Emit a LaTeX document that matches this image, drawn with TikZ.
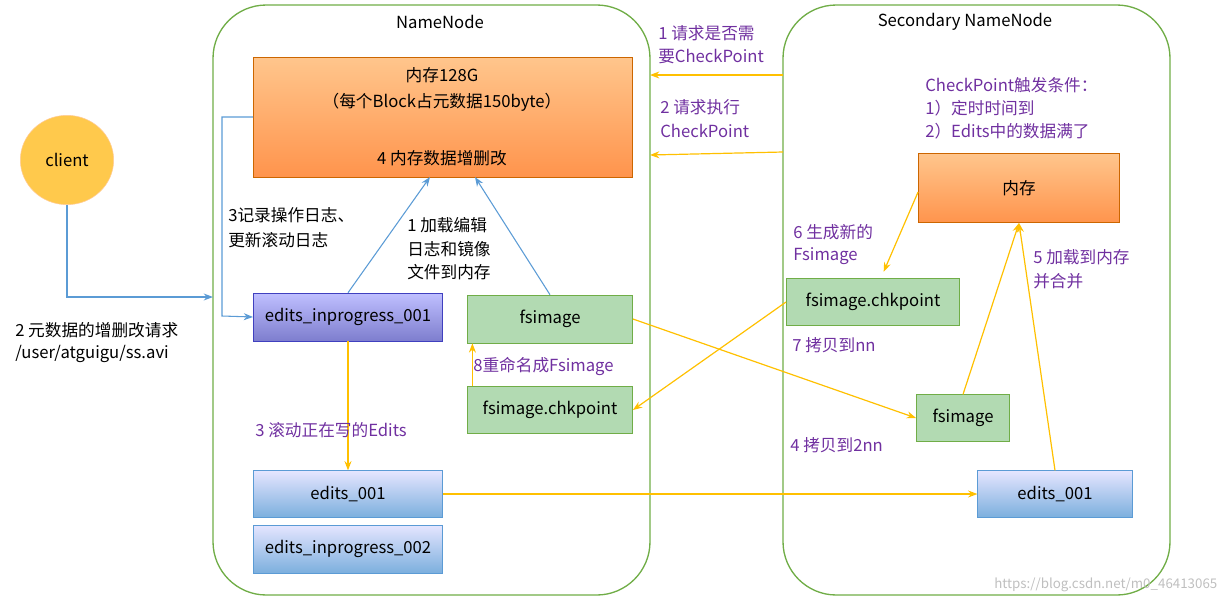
\documentclass[tikz,border=0pt]{standalone}
\usepackage{fontspec}
\setmainfont{Noto Sans CJK SC}
\usetikzlibrary{arrows.meta,shapes.geometric}
\definecolor{pur}{HTML}{7030A0}
\definecolor{org}{HTML}{FFC000}
\definecolor{bl}{HTML}{5B9BD5}
\definecolor{grn}{HTML}{70AD47}
\begin{document}
\begin{tikzpicture}[x=0.75pt,y=-0.75pt,font=\fontsize{12.5}{14}\selectfont,
 frame/.style={draw=grn,line width=1pt,rounded corners=40pt},
 ob/.style={top color=orange!45!white,bottom color=orange!80!red!70!white,draw=orange!80!black},
 gb/.style={fill=green!35!gray!45!white,draw=grn},
 bb/.style={top color=blue!10!white,bottom color=bl!80!white,draw=bl},
 pb/.style={top color=blue!25!white,bottom color=blue!45!gray!70!white,draw=blue!50!gray},
 oa/.style={draw=org,line width=0.9pt,-{Stealth[length=7pt]}},
 ba/.style={draw=bl,line width=0.8pt,-{Stealth[length=7pt]}},
 pl/.style={text=pur,anchor=west,align=left,inner sep=0},
 kl/.style={anchor=west,align=left,inner sep=0}]
\useasboundingbox (0,0) rectangle (1228,604);
\draw[frame] (213,5) rectangle (650,595);
\draw[frame] (783,5) rectangle (1170,595);
\node (nnt) at (440,22) {NameNode};
\node (snt) at (965,22) {Secondary NameNode};
\node[ellipse,minimum width=70pt,minimum height=67pt,fill=orange!60!yellow!70!white,draw=orange!40!white] (client) at (67,160) {client};
\path[ob] (253,57) rectangle (632,177);
\node at (442,75) {内存128G};
\node at (442,102) {（每个Block占元数据150byte）};
\node at (442,158) {4 内存数据增删改};
\node[pb,minimum width=142pt,minimum height=36pt] (eip1) at (348,317) {edits\_inprogress\_001};
\node[gb,minimum width=124pt,minimum height=36pt] (fsi) at (550,319) {fsimage};
\node[gb,minimum width=124pt,minimum height=35pt] (chk) at (550,410) {fsimage.chkpoint};
\node[bb,minimum width=142pt,minimum height=35pt] (e1) at (348,494) {edits\_001};
\node[bb,minimum width=142pt,minimum height=36pt] (eip2) at (348,549) {edits\_inprogress\_002};
\node[ob,minimum width=151pt,minimum height=52pt] (smem) at (1019,188) {内存};
\node[gb,minimum width=130pt,minimum height=35pt] (schk) at (873,302) {fsimage.chkpoint};
\node[gb,minimum width=70pt,minimum height=35pt] (sfs) at (963,418) {fsimage};
\node[bb,minimum width=116pt,minimum height=35pt] (se1) at (1055,494) {edits\_001};
\coordinate (c1) at (67,297);
\coordinate (nnl) at (213,297);
\draw[ba] (client.south) -- (c1) -- (nnl);
\node[kl] (l2) at (15,330) {2 元数据的增删改请求};
\node[kl] (l2b) at (15,354) {/user/atguigu/ss.avi};
\coordinate (m1) at (253,117);\coordinate (m2) at (222,117);\coordinate (m3) at (222,316);
\draw[ba] (m1) -- (m2) -- (m3) -- (eip1.west);
\node[kl] at (228,215) {3记录操作日志、};
\node[kl] at (228,240) {更新滚动日志};
\coordinate (mb1) at (430,177);\coordinate (mb2) at (475,177);
\draw[ba] (eip1.north) -- (mb1);
\draw[ba] (fsi.north) -- (mb2);
\node[kl] at (407,225) {1 加载编辑};
\node[kl] at (407,249) {日志和镜像};
\node[kl] at (407,272) {文件到内存};
\draw[oa] (eip1.south) -- (e1.north);
\node[pl] at (255,430) {3 滚动正在写的Edits};
\draw[oa] ([xshift=4pt]chk.north west) -- ([xshift=4pt]fsi.south west);
\node[pl] at (473,366) {8重命名成Fsimage};
\draw[oa] (e1.east) -- (se1.west);
\draw[oa] (fsi.east) -- (sfs.west);
\node[pl] at (790,445) {4 拷贝到2nn};
\coordinate (r1) at (783,75);\coordinate (r1e) at (650,75);
\coordinate (r2) at (783,152);\coordinate (r2e) at (650,155);
\draw[oa] (r1) -- (r1e);
\draw[oa] (r2) -- (r2e);
\node[pl] at (658,33) {1 请求是否需};
\node[pl] at (658,57) {要CheckPoint};
\node[pl] at (660,107) {2 请求执行};
\node[pl] at (660,131) {CheckPoint};
\draw[oa] ([yshift=-3pt]smem.west) -- ([xshift=8pt,yshift=5pt]schk.north);
\node[pl] at (793,232) {6 生成新的};
\node[pl] at (793,256) {Fsimage};
\draw[oa] (schk.west) -- (chk.east);
\node[pl] at (792,345) {7 拷贝到nn};
\draw[oa] (sfs.north) -- (smem.south);
\draw[oa] (se1.north) -- (smem.south);
\node[pl] at (1033,257) {5 加载到内存};
\node[pl] at (1033,281) {并合并};
\node[pl] at (925,85) {CheckPoint触发条件：};
\node[pl] at (925,108) {1）定时时间到};
\node[pl] at (925,131) {2）Edits中的数据满了};
\node[anchor=east,text=gray!50,font=\fontsize{10}{12}\selectfont] at (1222,585) {https://blog.csdn.net/m0\_46413065};
\end{tikzpicture}
\end{document}
